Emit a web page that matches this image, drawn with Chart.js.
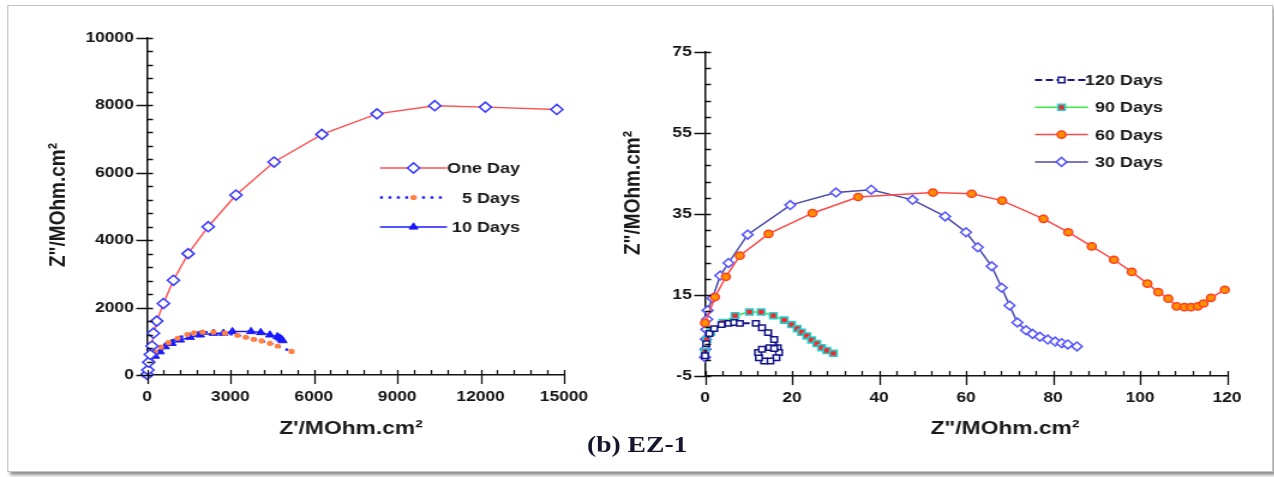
<!DOCTYPE html>
<html>
<head>
<meta charset="utf-8">
<script src="https://cdn.jsdelivr.net/npm/chart.js@4.4.1/dist/chart.umd.min.js"></script>
<style>
html, body { margin: 0; padding: 0; background: #fff; overflow: hidden; }
/* the source picture is stretched sideways, so the whole page is too */
#page { position: absolute; left: 0; top: 0; width: 1062px; height: 477px; transform: scaleX(1.2); transform-origin: 0 0; }
#frame { position: absolute; left: 6px; top: 5px; width: 1053px; height: 465px; border: 1px solid #c4c4c4; box-shadow: 2px 3px 3px rgba(0,0,0,.45); background: #fff; }
canvas { position: absolute; top: 0; }
#left { left: 0; }
#right { left: 500px; }
#caption { position: absolute; top: 432px; left: 0; width: 1062px; text-align: center; font: bold 23px "Liberation Serif", serif; color: #15152e; }
</style>
</head>
<body>
<div id="page">
  <div id="frame"></div>
  <canvas id="left" width="533" height="470"></canvas>
  <canvas id="right" width="562" height="470"></canvas>
  <div id="caption">(b) EZ-1</div>
</div>
<script>
// left plot
const oneDayX = [5, 30, 60, 120, 180, 230, 350, 590, 950, 1480, 2200, 3200, 4570, 6290, 8270, 10350, 12170, 14740]
const oneDayY = [20, 150, 380, 610, 860, 1240, 1600, 2120, 2810, 3600, 4400, 5340, 6320, 7140, 7750, 7990, 7950, 7880]

const fiveDaysX = [10, 60, 150, 290, 500, 770, 1100, 1450, 1690, 2000, 2390, 2800, 3250, 3550, 3840, 4120, 4420, 4700, 5200]
const fiveDaysY = [30, 180, 400, 690, 830, 960, 1090, 1200, 1250, 1270, 1270, 1240, 1180, 1120, 1060, 1010, 940, 860, 700]

const tenDaysX = [0, 20, 110, 290, 470, 650, 890, 1190, 1550, 1910, 2390, 2750, 3070, 3740, 4090, 4420, 4690, 4770, 4840, 4880]
const tenDaysY = [0, 200, 450, 560, 690, 840, 940, 1040, 1120, 1190, 1240, 1240, 1290, 1290, 1260, 1190, 1140, 1100, 1060, 1020]

// right plot
const days120X = [0, 0.3, 1.0, 2.1, 3.8, 5.4, 6.7, 8.0, 11.7, 13.1, 14.5, 15.9, 16.7, 17.0, 16.4, 15.0, 13.6, 12.4, 12.2, 13.1, 14.8, 15.9]
const days120Y = [0.0, 3.0, 5.5, 6.7, 7.7, 8.0, 8.2, 8.0, 8.0, 6.9, 5.7, 4.0, 2.0, 0.8, -0.5, -1.3, -1.3, -0.5, 0.8, 1.6, 2.0, 1.8]

const days90X = [0, 0.4, 1.3, 4.1, 6.9, 10.2, 12.9, 15.7, 18.2, 19.9, 21.2, 22.2, 23.4, 24.5, 25.7, 26.8, 28.0, 29.5]
const days90Y = [1.0, 4.0, 5.8, 8.2, 9.9, 10.8, 10.8, 9.9, 8.8, 7.7, 6.7, 5.8, 4.9, 3.9, 3.0, 2.0, 1.3, 0.6]

const days60X = [0, 2.3, 4.8, 8.0, 14.6, 24.7, 35.2, 52.4, 61.3, 68.3, 77.8, 83.5, 88.9, 94.0, 98.1, 101.7, 104.2, 106.5, 108.4, 110.2, 111.7, 113.3, 114.6, 116.3, 119.5]
const days60Y = [8.1, 14.5, 19.5, 24.7, 30.1, 35.2, 39.2, 40.3, 40.0, 38.3, 33.8, 30.5, 27.0, 23.7, 20.7, 17.8, 15.7, 14.1, 12.2, 12.0, 12.0, 12.2, 12.9, 14.3, 16.3]

const days30X = [0, 0.1, 0.2, 0.3, 0.5, 0.6, 1.7, 3.5, 5.4, 9.8, 19.6, 30.1, 38.2, 47.7, 55.2, 60.0, 62.7, 65.9, 68.2, 70.0, 71.8, 73.8, 75.3, 77.0, 78.8, 80.5, 82.0, 83.4, 85.5]
const days30Y = [-0.4, 1.6, 4.1, 6.5, 9.0, 11.2, 14.2, 19.8, 22.9, 29.9, 37.2, 40.3, 41.0, 38.5, 34.4, 30.5, 26.8, 22.1, 16.8, 12.4, 8.2, 6.3, 5.4, 4.7, 4.0, 3.5, 3.1, 2.8, 2.3]

const pts = (xs, ys) => xs.map((x, i) => ({ x: x, y: ys[i] }))

Chart.defaults.font.family = '"Liberation Sans", Arial, sans-serif'
Chart.defaults.font.weight = 'bold'
Chart.defaults.color = '#151515'

const S = 1.2   // sideways stretch, page px -> canvas units

// axis tick marks (major across the axis, minor inside), titles and legend
const decor = {
  id: 'decor',
  afterDraw(chart, args, o) {
    const ctx = chart.ctx
    const xs = chart.scales.x, ys = chart.scales.y
    const a = chart.chartArea
    ctx.save()
    ctx.strokeStyle = '#111'
    ctx.lineWidth = 1.3
    ctx.beginPath()
    for (let v = ys.min; v <= ys.max + 1e-9; v += o.yMinor) {
      const py = Math.round(ys.getPixelForValue(v)) + 0.5
      const k = (v - ys.min) / o.yMajor
      const major = Math.abs(k - Math.round(k)) < 1e-6
      ctx.moveTo(a.left - (major ? 9 : 0), py)
      ctx.lineTo(a.left + 5, py)
    }
    for (let v = xs.min; v <= xs.max + 1e-9; v += o.xMinor) {
      const px = Math.round(xs.getPixelForValue(v)) + 0.5
      const k = (v - xs.min) / o.xMajor
      const major = Math.abs(k - Math.round(k)) < 1e-6
      ctx.moveTo(px, a.bottom + (major ? 9 : 0))
      ctx.lineTo(px, a.bottom - 5)
    }
    ctx.stroke()

    ctx.fillStyle = '#1a1a1a'
    ctx.textAlign = 'center'
    ctx.textBaseline = 'middle'
    ctx.font = 'bold 19px "Liberation Sans", Arial, sans-serif'
    o.titles.forEach(t => {
      ctx.save()
      ctx.translate(t.x, t.y)
      if (t.rotate) ctx.rotate(-Math.PI / 2)
      ctx.fillText(t.text, 0, 0)
      ctx.restore()
    })

    const L = o.legend
    ctx.font = 'bold 15px "Liberation Sans", Arial, sans-serif'
    ctx.textAlign = 'right'
    chart.data.datasets.forEach((ds, i) => {
      const y = L.y0 + i * L.gap
      ctx.strokeStyle = ds.borderColor
      ctx.lineWidth = ds.borderWidth
      ctx.setLineDash(ds.borderDash || [])
      ctx.beginPath()
      ctx.moveTo(L.x1, y)
      ctx.lineTo(L.x2, y)
      ctx.stroke()
      ctx.setLineDash([])
      ctx.fillStyle = ds.pointBackgroundColor
      ctx.strokeStyle = ds.pointBorderColor
      ctx.lineWidth = ds.pointBorderWidth
      Chart.helpers.drawPoint(ctx, {
        pointStyle: ds.pointStyle, radius: ds.pointRadius, rotation: 0, borderWidth: ds.pointBorderWidth
      }, (L.x1 + L.x2) / 2, y)
      ctx.fillStyle = '#1a1a1a'
      ctx.fillText(ds.label, L.textRight, y + 1)
    })
    ctx.restore()
  }
}

function makeOptions(c) {
  return {
    responsive: false,
    animation: false,
    layout: { padding: { left: 0, top: c.top, right: c.right, bottom: 0 } },
    plugins: { legend: { display: false }, tooltip: { enabled: false }, decor: c.decor },
    scales: {
      x: {
        type: 'linear', min: c.xMin, max: c.xMax,
        grid: { display: false, drawTicks: false },
        border: { display: true, color: '#111', width: 1.5 },
        ticks: { stepSize: c.xStep, padding: 13, font: { size: 14.5 }, callback: v => v },
        afterFit: s => { s.height = c.xHeight }
      },
      y: {
        type: 'linear', min: c.yMin, max: c.yMax,
        grid: { display: false, drawTicks: false },
        border: { display: true, color: '#111', width: 1.5 },
        ticks: { stepSize: c.yStep, padding: 11, font: { size: 14.5 }, callback: v => v },
        afterFit: s => { s.width = c.yWidth }
      }
    }
  }
}

const series = (label, data, st) => Object.assign({
  label, data, showLine: true, clip: false, borderWidth: 1.4, pointBorderWidth: 1.5, pointHoverRadius: 0
}, st)

new Chart(document.getElementById('left').getContext('2d'), {
  type: 'scatter',
  data: {
    datasets: [
      series('One Day', pts(oneDayX, oneDayY), {
        borderColor: '#ff5050', pointStyle: 'rectRot', pointRadius: 5,
        pointBorderColor: '#3c3cff', pointBackgroundColor: '#fff', pointBorderWidth: 1.6
      }),
      series('5 Days', pts(fiveDaysX, fiveDaysY), {
        borderColor: '#2222ff', borderWidth: 2.5, borderDash: [2.5, 4.5], pointStyle: 'circle', pointRadius: 2.6,
        pointBorderColor: '#ff8040', pointBackgroundColor: '#ff8040', pointBorderWidth: 0
      }),
      series('10 Days', pts(tenDaysX, tenDaysY), {
        borderColor: '#1a1aff', borderWidth: 1.4, pointStyle: 'triangle', pointRadius: 4.2,
        pointBorderColor: '#1a1aff', pointBackgroundColor: '#1a1aff', pointBorderWidth: 1
      })
    ]
  },
  options: makeOptions({
    top: 38, right: 533 - 564 / S, xHeight: 470 - 375, yWidth: 147 / S,
    xMin: 0, xMax: 15000, xStep: 3000, yMin: 0, yMax: 10000, yStep: 2000,
    decor: {
      xMajor: 3000, xMinor: 600, yMajor: 2000, yMinor: 400,
      titles: [
        { text: 'Z"/MOhm.cm²', x: 58 / S, y: 205, rotate: true },
        { text: "Z'/MOhm.cm²", x: 351 / S, y: 429 }
      ],
      legend: { x1: 380 / S, x2: 447 / S, textRight: 520 / S, y0: 168, gap: 29.5 }
    }
  }),
  plugins: [decor]
})

const R0 = 600 / S  // left edge of the right canvas in page px / S
new Chart(document.getElementById('right').getContext('2d'), {
  type: 'scatter',
  data: {
    datasets: [
      series('120 Days', pts(days120X, days120Y), {
        borderColor: '#14148a', borderWidth: 2, borderDash: [6, 3], pointStyle: 'rect', pointRadius: 3.8,
        pointBorderColor: '#14148a', pointBackgroundColor: '#fff', pointBorderWidth: 1.5
      }),
      series('90 Days', pts(days90X, days90Y), {
        borderColor: '#33ee44', borderWidth: 1.6, pointStyle: 'rect', pointRadius: 4.2,
        pointBorderColor: '#2ccccc', pointBackgroundColor: '#ee2a2a', pointBorderWidth: 1.6
      }),
      series('60 Days', pts(days60X, days60Y), {
        borderColor: '#ff4848', borderWidth: 1.5, pointStyle: 'circle', pointRadius: 3.6,
        pointBorderColor: '#ff4020', pointBackgroundColor: '#ff9000', pointBorderWidth: 1.5
      }),
      series('30 Days', pts(days30X, days30Y), {
        borderColor: '#4a4aa6', borderWidth: 1.5, pointStyle: 'rectRot', pointRadius: 4.4,
        pointBorderColor: '#5a5aff', pointBackgroundColor: '#fff', pointBorderWidth: 1.6
      })
    ]
  },
  options: makeOptions({
    top: 52, right: 562 - (1227 / S - R0), xHeight: 470 - 376, yWidth: 705 / S - R0,
    xMin: 0, xMax: 120, xStep: 20, yMin: -5, yMax: 75, yStep: 20,
    decor: {
      xMajor: 20, xMinor: 4, yMajor: 20, yMinor: 4,
      titles: [
        { text: 'Z"/MOhm.cm²', x: 633 / S - R0, y: 193, rotate: true },
        { text: 'Z"/MOhm.cm²', x: 1005 / S - R0, y: 429 }
      ],
      legend: { x1: 1035 / S - R0, x2: 1088 / S - R0, textRight: 1163 / S - R0, y0: 80, gap: 27.3 }
    }
  }),
  plugins: [decor]
})
</script>
</body>
</html>
